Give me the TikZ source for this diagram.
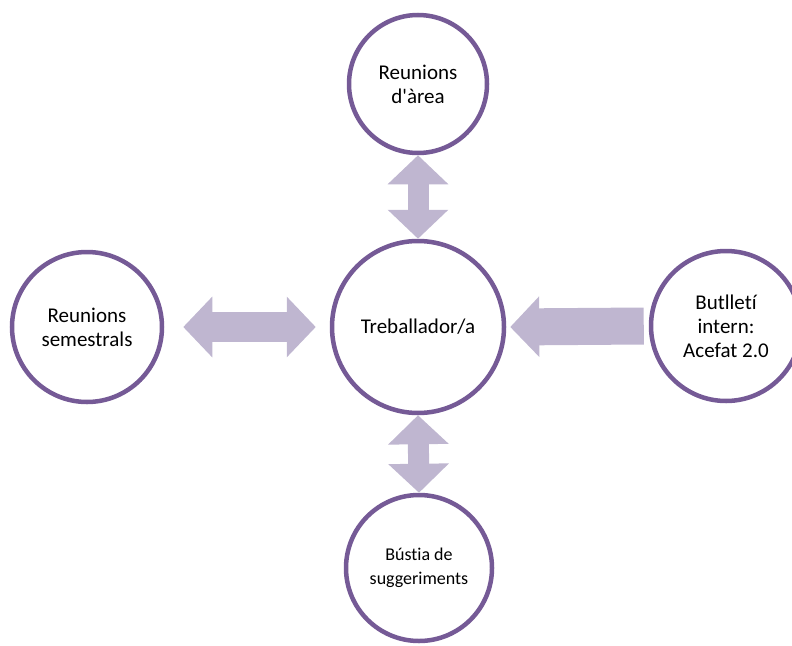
\documentclass[tikz,border=0pt]{standalone}
\usepackage{fontspec}
\setmainfont{Carlito}[Ligatures={NoCommon}]
\usepackage{tikz}
\usetikzlibrary{positioning,arrows.meta}
\usepackage{xcolor}

\definecolor{ringpurple}{RGB}{117,90,150}
\definecolor{arrowlilac}{RGB}{191,182,208}

\tikzset{
  ring/.style={circle, draw=ringpurple, line width=4.5pt, fill=white, inner sep=0pt,
               align=center, font=\fontsize{21}{24}\selectfont},
  twoway/.style={draw=arrowlilac, line width=#1,
                 {Triangle[length=29pt,width=59pt]}-{Triangle[length=29pt,width=59pt]}},
  oneway/.style={draw=arrowlilac, line width=#1, -{Triangle[length=29pt,width=59pt]}}
}

\begin{document}
\begin{tikzpicture}[x=1pt,y=-1pt]
                \useasboundingbox (0,0) rectangle (792,645);

                % Circles
                \node[ring, minimum size=172pt] (treb) at (418,327) {Treballador/a};
                \node[ring, minimum size=138pt] (area) at (418,84) {Reunions\\d\textquotesingle àrea};
                \node[ring, minimum size=150pt] (semi) at (87,327) {Reunions\\semestrals};
                \node[ring, minimum size=150pt] (bull) at (726,326) {Butlletí\\intern:\\Acefat 2.0};
                \node[ring, minimum size=146pt, font=\fontsize{18}{24}\selectfont] (bust) at (419,568) {Bústia de\\suggeriments};

                % Arrows
                \draw[twoway=21pt] (area.south) -- (treb.north);
                \draw[twoway=21pt] (treb.south) -- (bust.north);
                \draw[twoway=30pt] ([xshift=19pt]semi.east) -- ([xshift=-14pt]treb.west);
                \draw[oneway=37pt] ([xshift=-5pt]bull.west) -- ([xshift=4pt]treb.east);
\end{tikzpicture}
\end{document}
